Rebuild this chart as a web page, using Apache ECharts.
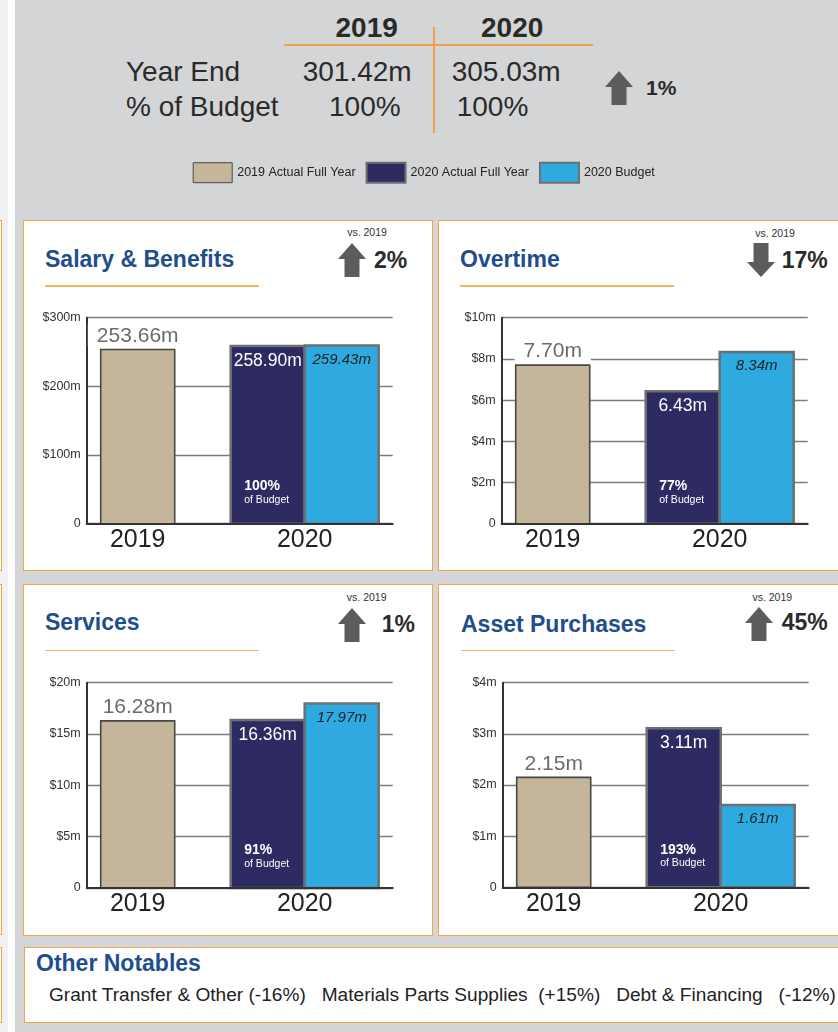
<!DOCTYPE html>
<html>
<head>
<meta charset="utf-8">
<script src="https://cdn.jsdelivr.net/npm/echarts@6.0.0/dist/echarts.min.js"></script>
<style>
  html, body { margin: 0; padding: 0; }
  body {
    width: 838px; height: 1032px; overflow: hidden; position: relative;
    background: #d4d5d7; color: #2a2a2a;
    font-family: 'Liberation Sans', Arial, Helvetica, sans-serif;
  }
  .abs { position: absolute; white-space: pre; line-height: 1; }
  .panel { position: absolute; background: #fff; border: 1.5px solid #f5a445; box-sizing: border-box; }
  .title { font-weight: bold; font-size: 23px; color: #1f4e8d; }
  #chart { position: absolute; left: 0; top: 0; width: 838px; height: 1032px; }
</style>
</head>
<body>
<div id="page"></div>
<div id="chart"></div>
<script>
// ---- data ----
const YEARS = ['2019', '2020'];
const HEADER_ROWS = ['Year End', '% of Budget'];
const YEAR_END_TOTAL = [301.42, 305.03];
const PCT_OF_BUDGET_TOTAL = [100, 100];
const TOTAL_CHANGE = 1;

const LEGEND_NAMES = ['2019 Actual Full Year', '2020 Actual Full Year', '2020 Budget'];

const CATEGORIES = ['Salary & Benefits', 'Overtime', 'Services', 'Asset Purchases'];
const ACTUAL_2019 = [253.66, 7.70, 16.28, 2.15];
const ACTUAL_2020 = [258.90, 6.43, 16.36, 3.11];
const BUDGET_2020 = [259.43, 8.34, 17.97, 1.61];
const PCT_OF_BUDGET = [100, 77, 91, 193];
const CHANGE_VS_2019 = [2, -17, 1, 45];
const Y_MAX = [300, 10, 20, 4];
const Y_STEP = [100, 2, 5, 1];

const NOTABLE_NAMES = ['Grant Transfer & Other', 'Materials Parts Supplies', 'Debt & Financing'];
const NOTABLE_CHANGES = [-16, 15, -12];

// ---- layout (pixels) ----
const TAN = '#c4b59b', NAVY = '#2e2b62', BLUE = '#2eaae0';
const BAR_W = 74;
const LAYOUT = [
  { box: [22.7, 219.7], axisX: 86.7, top: 317.7, h: 206, titleX: 45, titleY: 259, lineY: 285, vs: [367, 231.7], arrow: [338.3, 242.7], chg: [374, 259.7] },
  { box: [438, 219.7], axisX: 501.7, top: 317.7, h: 206, titleX: 460, titleY: 259, lineY: 285, vs: [775, 233.3], arrow: [746.7, 242.7], chg: [781.7, 259.7] },
  { box: [22.7, 584.3], axisX: 86.7, top: 682.7, h: 205.3, titleX: 45, titleY: 622, lineY: 649.5, vs: [366.7, 597.3], arrow: [338, 608], chg: [381.7, 623.7] },
  { box: [438, 584.3], axisX: 502.7, top: 682.7, h: 204.6, titleX: 461, titleY: 623.5, lineY: 649.5, vs: [772.3, 596.7], arrow: [745, 607], chg: [781.7, 622] },
];

const page = document.getElementById('page');

function put(text, x, y, css, centered) {
  const d = document.createElement('div');
  d.className = 'abs';
  d.textContent = text;
  d.style.cssText += css || '';
  d.style.left = x + 'px';
  d.style.top = y + 'px';
  d.style.transform = centered ? 'translate(-50%,-50%)' : 'translateY(-50%)';
  page.appendChild(d);
  return d;
}
function rect(x, y, w, h, css, cls) {
  const d = document.createElement('div');
  d.className = cls || 'abs';
  d.style.cssText = `position:absolute;left:${x}px;top:${y}px;width:${w}px;height:${h}px;` + (css || '');
  page.appendChild(d);
  return d;
}
function arrow(x, y, up) {
  const pts = up
    ? '14,0 28,16 21.5,16 21.5,34 6.5,34 6.5,16 0,16'
    : '6.5,0 21.5,0 21.5,19 28,19 14,34 0,19 6.5,19';
  page.insertAdjacentHTML('beforeend',
    `<svg width="28" height="34" style="position:absolute;left:${x}px;top:${y}px"><polygon points="${pts}" fill="#5b5c5e"/></svg>`);
}

// left edge strips
rect(0, 0, 8, 1032, 'background:#f1f1f1;');
rect(8, 0, 7, 1032, 'background:#fff;');
[[219.7, 351.3], [584.3, 351], [946.5, 76.5]].forEach(([t, h]) => rect(-60, t, 61.5, h, '', 'panel'));

// header
put(YEARS[0], 366.7, 28, 'font-weight:bold;font-size:28px;', true);
put(YEARS[1], 512.2, 28, 'font-weight:bold;font-size:28px;', true);
rect(284, 44, 309, 1.5, 'background:#f0a04b;');
rect(432.5, 27, 2, 106, 'background:#f0a04b;');
put(HEADER_ROWS[0], 126, 72, 'font-size:28px;');
put(HEADER_ROWS[1], 126, 106.5, 'font-size:28px;');
put(YEAR_END_TOTAL[0].toFixed(2) + 'm', 302.7, 72, 'font-size:28px;');
put(YEAR_END_TOTAL[1].toFixed(2) + 'm', 451.7, 72, 'font-size:28px;');
put(PCT_OF_BUDGET_TOTAL[0] + '%', 329, 106.5, 'font-size:28px;');
put(PCT_OF_BUDGET_TOTAL[1] + '%', 456.7, 106.5, 'font-size:28px;');
arrow(604.5, 70.5, TOTAL_CHANGE >= 0);
put(Math.abs(TOTAL_CHANGE) + '%', 646, 87, 'font-weight:bold;font-size:21px;');

// panels
LAYOUT.forEach((p, i) => {
  rect(p.box[0], p.box[1], 410.3, 351.3, '', 'panel');
  put(CATEGORIES[i], p.titleX, p.titleY, '', false).classList.add('title');
  rect(p.titleX, p.lineY, 214, 1.5, 'background:#f7b462;');
  put('vs. ' + YEARS[0], p.vs[0], p.vs[1], 'font-size:10.5px;color:#333;', true);
  arrow(p.arrow[0], p.arrow[1], CHANGE_VS_2019[i] >= 0);
  put(Math.abs(CHANGE_VS_2019[i]) + '%', p.chg[0], p.chg[1], 'font-weight:bold;font-size:23px;color:#2b2b2b;');
});

// other notables
rect(23.5, 946.5, 840, 76.5, '', 'panel');
put('Other Notables', 36, 962.5, 'font-weight:bold;font-size:23px;color:#1f4e8d;');
const seps = [' ', '  ', '   '];
const notable = NOTABLE_NAMES.map((n, k) =>
  n + seps[k] + '(' + (NOTABLE_CHANGES[k] > 0 ? '+' : '') + NOTABLE_CHANGES[k] + '%)').join('   ');
put(notable, 49, 995, 'font-size:19.1px;color:#222;');

// ---- charts ----
function barRenderer(slot, kind) {
  return function (params, api) {
    const cat = api.value(0);
    const v = api.value(1);
    const base = api.coord([cat, 0]);
    const top = api.coord([cat, v]);
    const x = base[0] + slot * BAR_W - BAR_W / 2;
    const cx = x + BAR_W / 2;
    const children = [];
    if (kind === 'prev') {
      children.push({ type: 'rect', shape: { x, y: top[1], width: BAR_W, height: base[1] - top[1] },
        style: { fill: TAN, stroke: '#474747', lineWidth: 1.6 } });
      children.push({ type: 'text', z2: 10, style: {
        text: v.toFixed(2) + 'm', x: cx, y: top[1] - 3, align: 'center', verticalAlign: 'bottom',
        font: '21px "Liberation Sans", Arial, sans-serif', fill: '#6b6b6b',
        backgroundColor: '#fff', padding: [1, 9, 0, 9] } });
    } else if (kind === 'actual') {
      children.push({ type: 'rect', shape: { x, y: top[1], width: BAR_W, height: base[1] - top[1] },
        style: { fill: NAVY, stroke: '#6e6f71', lineWidth: 2.5 } });
      children.push({ type: 'text', z2: 10, style: {
        text: v.toFixed(2) + 'm', x: cx, y: top[1] + 6, align: 'center', verticalAlign: 'top',
        font: '17.5px "Liberation Sans", Arial, sans-serif', fill: '#fff' } });
      children.push({ type: 'text', z2: 10, style: {
        text: api.value(2) + '%', x: x + 13.5, y: base[1] - 37.5, align: 'left', verticalAlign: 'middle',
        font: 'bold 14px "Liberation Sans", Arial, sans-serif', fill: '#fff' } });
      children.push({ type: 'text', z2: 10, style: {
        text: 'of Budget', x: x + 13.5, y: base[1] - 24, align: 'left', verticalAlign: 'middle',
        font: '10.5px "Liberation Sans", Arial, sans-serif', fill: '#fff' } });
    } else {
      children.push({ type: 'rect', shape: { x, y: top[1], width: BAR_W, height: base[1] - top[1] },
        style: { fill: BLUE, stroke: '#6e6f71', lineWidth: 2.5 } });
      children.push({ type: 'text', z2: 10, style: {
        text: v.toFixed(2) + 'm', x: cx, y: top[1] + 6.5, align: 'center', verticalAlign: 'top',
        font: 'italic 15px "Liberation Sans Narrow", "Liberation Sans", Arial, sans-serif', fill: '#222' } });
    }
    return { type: 'group', children };
  };
}

const grids = [], xAxes = [], yAxes = [], series = [];
LAYOUT.forEach((p, i) => {
  const g = grids.length;
  // grid for axes and grid lines
  grids.push({ left: p.axisX, top: p.top, width: 306, height: p.h });
  // grid for the bars and year labels
  grids.push({ left: p.axisX - 32.5, top: p.top, width: 334, height: p.h });
  xAxes.push({ gridIndex: g, type: 'category', data: YEARS, z: 5,
    axisLine: { lineStyle: { color: '#333', width: 2 } },
    axisTick: { show: false }, axisLabel: { show: false }, splitLine: { show: false } });
  xAxes.push({ gridIndex: g + 1, type: 'category', data: YEARS,
    axisLine: { show: false }, axisTick: { show: false },
    axisLabel: { fontSize: 25, color: '#222', margin: 4 } });
  yAxes.push({ gridIndex: g, type: 'value', min: 0, max: Y_MAX[i], interval: Y_STEP[i],
    axisLine: { show: true, lineStyle: { color: '#333', width: 2 } },
    axisTick: { show: false },
    axisLabel: { fontSize: 12.5, color: '#333', margin: 6,
      formatter: (val) => (val === 0 ? '0' : '$' + val + 'm') },
    splitLine: { lineStyle: { color: '#7d7d7d', width: 1.3 } } });
  yAxes.push({ gridIndex: g + 1, type: 'value', min: 0, max: Y_MAX[i], show: false });

  const common = { type: 'custom', xAxisIndex: g + 1, yAxisIndex: g + 1, encode: { x: 0, y: 1 }, z: 3 };
  series.push(Object.assign({}, common, {
    name: LEGEND_NAMES[0], itemStyle: { color: TAN, borderColor: '#474747', borderWidth: 1 },
    data: [[YEARS[0], ACTUAL_2019[i]]], renderItem: barRenderer(0, 'prev') }));
  series.push(Object.assign({}, common, {
    name: LEGEND_NAMES[1], itemStyle: { color: NAVY, borderColor: '#6e6f71', borderWidth: 2 },
    data: [[YEARS[1], ACTUAL_2020[i], PCT_OF_BUDGET[i]]], renderItem: barRenderer(-0.5, 'actual') }));
  series.push(Object.assign({}, common, {
    name: LEGEND_NAMES[2], itemStyle: { color: BLUE, borderColor: '#6e6f71', borderWidth: 2 },
    data: [[YEARS[1], BUDGET_2020[i]]], renderItem: barRenderer(0.5, 'budget') }));
});

const chart = echarts.init(document.getElementById('chart'), null, { renderer: 'canvas' });
chart.setOption({
  animation: false,
  backgroundColor: 'transparent',
  textStyle: { fontFamily: '"Liberation Sans", Arial, sans-serif' },
  legend: {
    left: 192.7, top: 161.7, padding: 0, itemWidth: 39, itemHeight: 20, itemGap: 10, icon: 'rect',
    selectedMode: false,
    textStyle: { fontSize: 12.5, color: '#222' },
    data: LEGEND_NAMES.map((n, k) => ({ name: n,
      itemStyle: k === 0 ? { borderColor: '#474747', borderWidth: 1 } : { borderColor: '#6e6f71', borderWidth: 2 } })),
  },
  grid: grids,
  xAxis: xAxes,
  yAxis: yAxes,
  series: series,
});
</script>
</body>
</html>
